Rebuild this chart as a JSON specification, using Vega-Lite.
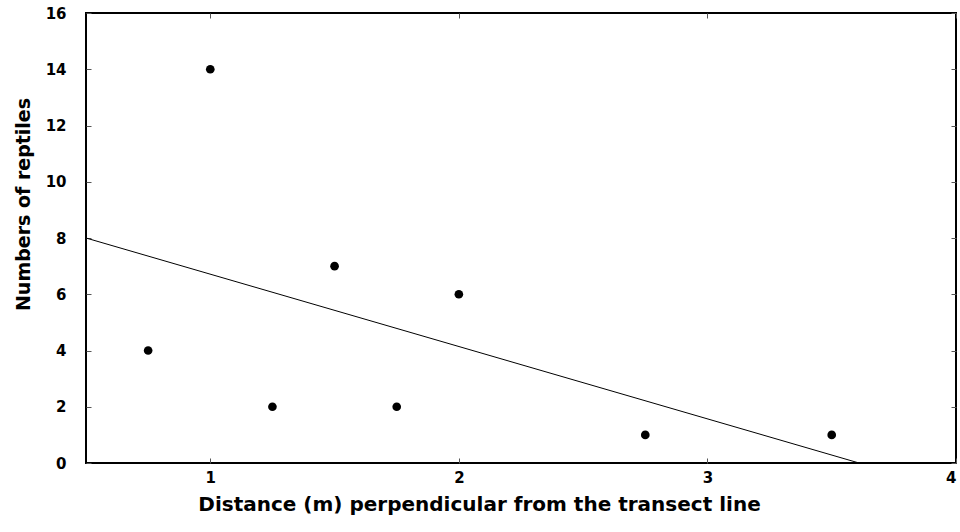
{
  "$schema": "https://vega.github.io/schema/vega-lite/v6.json",
  "width": 870,
  "height": 450,
  "autosize": {"type": "none"},
  "padding": {"left": 86, "top": 13, "right": 4, "bottom": 69},
  "background": "white",
  "config": {
    "view": {"stroke": "black", "strokeWidth": 2},
    "font": "DejaVu Sans",
    "axis": {
      "grid": false,
      "domain": false,
      "tickColor": "#555555",
      "tickSize": -5,
      "tickWidth": 1,
      "labelFont": "DejaVu Sans",
      "labelFontWeight": "bold",
      "labelFontSize": 15,
      "labelColor": "black",
      "titleFont": "DejaVu Sans",
      "titleFontWeight": "bold",
      "titleFontSize": 20,
      "titleColor": "black"
    }
  },
  "datasets": {
    "pts": [
      {"distance": 0.75, "reptiles": 4},
      {"distance": 1.0, "reptiles": 14},
      {"distance": 1.25, "reptiles": 2},
      {"distance": 1.5, "reptiles": 7},
      {"distance": 1.75, "reptiles": 2},
      {"distance": 2.0, "reptiles": 6},
      {"distance": 2.75, "reptiles": 1},
      {"distance": 3.5, "reptiles": 1}
    ],
    "fit": [
      {"distance": 0.5, "reptiles": 8.0},
      {"distance": 3.61, "reptiles": 0.0}
    ]
  },
  "layer": [
    {
      "data": {"name": "fit"},
      "mark": {"type": "line", "color": "black", "strokeWidth": 1, "clip": true},
      "encoding": {
        "x": {"field": "distance", "type": "quantitative", "scale": {"domain": [0.5, 4], "nice": false, "zero": false},
              "axis": {"orient": "top", "values": [1, 2, 3, 4], "labels": false, "title": null}},
        "y": {"field": "reptiles", "type": "quantitative", "scale": {"domain": [0, 16], "nice": false},
              "axis": {"orient": "right", "values": [0, 2, 4, 6, 8, 10, 12, 14, 16], "labels": false, "title": null}}
      }
    },
    {
      "data": {"name": "pts"},
      "mark": {"type": "circle", "color": "black", "opacity": 1, "size": 75},
      "encoding": {
        "x": {"field": "distance", "type": "quantitative",
              "axis": {"orient": "bottom", "values": [1, 2, 3, 4], "labelPadding": 12, "title": "Distance (m) perpendicular from the transect line", "titlePadding": 9, "titleX": 393}},
        "y": {"field": "reptiles", "type": "quantitative",
              "axis": {"orient": "left", "values": [0, 2, 4, 6, 8, 10, 12, 14, 16], "labelPadding": 25, "title": "Numbers of reptiles", "titleFontSize": 19, "titlePadding": 12, "titleY": 191}}
      }
    }
  ],
  "resolve": {"axis": {"x": "independent", "y": "independent"}}
}
